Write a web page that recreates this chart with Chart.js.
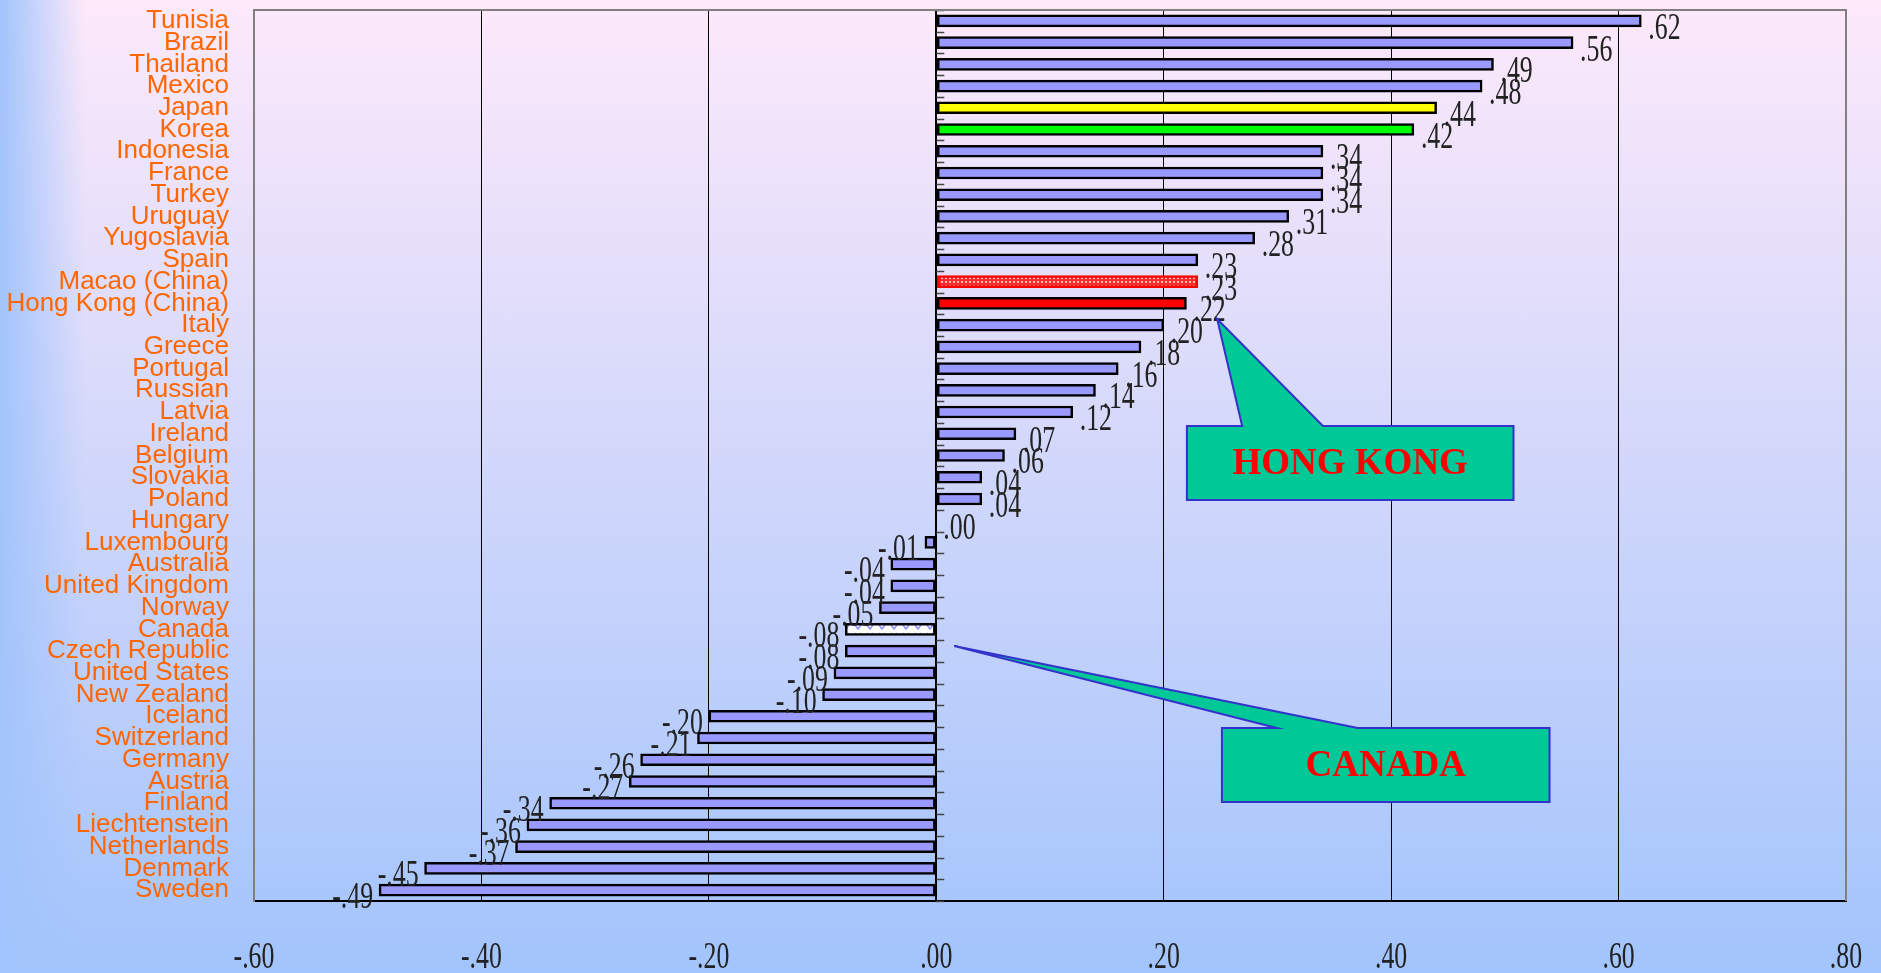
<!DOCTYPE html>
<html>
<head>
<meta charset="utf-8">
<script src="https://cdn.jsdelivr.net/npm/chart.js"></script>
<style>
  html, body { margin: 0; padding: 0; }
  #wrap {
    position: relative;
    width: 1881px;
    height: 973px;
    background:
      linear-gradient(to right, #a2c4fc 0px, rgba(162, 196, 252, 0) 85px),
      linear-gradient(to bottom, #fde9fa 0%, #a2c4fc 100%);
  }
  canvas { position: absolute; left: 0; top: 0; }
</style>
</head>
<body>
<div id="wrap"><canvas id="chart" width="1881" height="973"></canvas></div>
<script>
// Countries, top to bottom
const countries = [
  'Tunisia', 'Brazil', 'Thailand', 'Mexico', 'Japan', 'Korea', 'Indonesia', 'France',
  'Turkey', 'Uruguay', 'Yugoslavia', 'Spain', 'Macao (China)', 'Hong Kong (China)',
  'Italy', 'Greece', 'Portugal', 'Russian', 'Latvia', 'Ireland', 'Belgium', 'Slovakia',
  'Poland', 'Hungary', 'Luxembourg', 'Australia', 'United Kingdom', 'Norway', 'Canada',
  'Czech Republic', 'United States', 'New Zealand', 'Iceland', 'Switzerland', 'Germany',
  'Austria', 'Finland', 'Liechtenstein', 'Netherlands', 'Denmark', 'Sweden'
];

// Score per country (same order)
const scores = [
  0.62, 0.56, 0.49, 0.48, 0.44, 0.42, 0.34, 0.34,
  0.34, 0.31, 0.28, 0.23, 0.23, 0.22,
  0.20, 0.18, 0.16, 0.14, 0.12, 0.07, 0.06, 0.04,
  0.04, 0.00, -0.01, -0.04, -0.04, -0.05, -0.08,
  -0.08, -0.09, -0.10, -0.20, -0.21, -0.26,
  -0.27, -0.34, -0.36, -0.37, -0.45, -0.49
];

// Value axis range and step
const xMin = -0.6;
const xMax = 0.8;
const xStep = 0.2;

const calloutLabels = ['HONG KONG', 'CANADA'];

const barFill   = '#9999ff';
const labelInk  = '#222222';
const frameGray = '#808080';
const numFont   = '38px "Liberation Serif", "Times New Roman", serif';

// ".62" / "-.49" style numbers
function fmt(v) {
  const s = Math.abs(v).toFixed(2).replace(/^0/, '');
  return (v < -1e-9 ? '-' : '') + s;
}

function makePattern(w, h, paint) {
  const c = document.createElement('canvas');
  c.width = w; c.height = h;
  paint(c.getContext('2d'));
  return document.getElementById('chart').getContext('2d').createPattern(c, 'repeat');
}

// small red/white check
const macaoFill = makePattern(4, 4, g => {
  g.fillStyle = '#ff2a2a'; g.fillRect(0, 0, 4, 4);
  g.fillStyle = '#ffc4c4'; g.fillRect(1, 1, 2, 2);
});

// white with light blue "v" marks
const canadaFill = makePattern(12, 8, g => {
  g.fillStyle = '#ffffff'; g.fillRect(0, 0, 12, 8);
  g.strokeStyle = '#8f8fff'; g.lineWidth = 1.5;
  g.beginPath(); g.moveTo(3, 1); g.lineTo(6, 5); g.lineTo(9, 1); g.stroke();
});

const specialFill = {
  'Japan': '#ffff00',
  'Korea': '#00ff00',
  'Hong Kong (China)': '#ff0000',
  'Macao (China)': macaoFill,
  'Canada': canadaFill
};
const specialBorder = { 'Macao (China)': '#ff0000' };

// Short marks on the zero line between categories
const zeroTicks = {
  id: 'zeroTicks',
  beforeDatasetsDraw(chart) {
    const { ctx, scales: { x, y } } = chart;
    const x0 = x.getPixelForValue(0);
    ctx.save();
    ctx.strokeStyle = '#444';
    ctx.lineWidth = 1.5;
    for (let i = 0; i <= countries.length; i++) {
      const py = Math.round(y.getPixelForValue(i - 0.5)) + 0.5;
      ctx.beginPath();
      ctx.moveTo(x0, py);
      ctx.lineTo(x0 + 8, py);
      ctx.stroke();
    }
    ctx.restore();
  }
};

// Narrow serif text, used for value labels and x tick labels
function narrowText(ctx, text, px, py, align) {
  ctx.save();
  ctx.translate(px, py);
  ctx.scale(0.68, 1);
  ctx.textAlign = align;
  ctx.fillText(text, 0, 0);
  ctx.restore();
}

const valueLabels = {
  id: 'valueLabels',
  afterDatasetsDraw(chart) {
    const { ctx } = chart;
    const meta = chart.getDatasetMeta(0);
    ctx.save();
    ctx.fillStyle = labelInk;
    ctx.font = numFont;
    ctx.textBaseline = 'middle';
    meta.data.forEach((bar, i) => {
      const v = scores[i];
      if (v < 0) narrowText(ctx, fmt(v), bar.x - 6, bar.y + 8, 'right');
      else narrowText(ctx, fmt(v), bar.x + 7, bar.y + 8, 'left');
    });
    ctx.restore();
  }
};

const frameAndTicks = {
  id: 'frameAndTicks',
  afterDraw(chart) {
    const { ctx, chartArea: a, scales: { x } } = chart;
    ctx.save();
    // top and right edges of the plot frame
    ctx.strokeStyle = frameGray;
    ctx.lineWidth = 2;
    ctx.beginPath();
    ctx.moveTo(a.left, a.top);
    ctx.lineTo(a.right, a.top);
    ctx.lineTo(a.right, a.bottom);
    ctx.stroke();
    // x tick labels
    ctx.fillStyle = labelInk;
    ctx.font = numFont;
    ctx.textBaseline = 'middle';
    x.ticks.forEach(t => {
      narrowText(ctx, fmt(t.value), x.getPixelForValue(t.value), a.bottom + 57, 'center');
    });
    ctx.restore();
  }
};

// Speech-bubble callouts, placed in value / category units
const callouts = {
  id: 'callouts',
  afterDraw(chart) {
    const { ctx, scales: { x, y } } = chart;
    const boxes = [
      { box: [0.2204, 18.64, 0.5076, 22.05], tip: [0.247, 13.72], base: [0.269, 0.340] },
      { box: [0.2512, 32.54, 0.5393, 35.95], tip: [0.0158, 28.77], base: [0.2995, 0.3706] }
    ];
    ctx.save();
    boxes.forEach((c, k) => {
      const l = x.getPixelForValue(c.box[0]);
      const t = y.getPixelForValue(c.box[1]);
      const r = x.getPixelForValue(c.box[2]);
      const b = y.getPixelForValue(c.box[3]);
      ctx.beginPath();
      ctx.moveTo(l, t);
      ctx.lineTo(x.getPixelForValue(c.base[0]), t);
      ctx.lineTo(x.getPixelForValue(c.tip[0]), y.getPixelForValue(c.tip[1]));
      ctx.lineTo(x.getPixelForValue(c.base[1]), t);
      ctx.lineTo(r, t);
      ctx.lineTo(r, b);
      ctx.lineTo(l, b);
      ctx.closePath();
      ctx.fillStyle = '#00c896';
      ctx.fill();
      ctx.strokeStyle = '#3333cc';
      ctx.lineWidth = 2;
      ctx.stroke();
      ctx.fillStyle = '#ff0000';
      ctx.font = 'bold 37px "Liberation Serif", "Times New Roman", serif';
      ctx.textAlign = 'center';
      ctx.textBaseline = 'middle';
      ctx.fillText(calloutLabels[k], (l + r) / 2, (t + b) / 2 + 1);
    });
    ctx.restore();
  }
};

new Chart(document.getElementById('chart'), {
  type: 'bar',
  data: {
    labels: countries,
    datasets: [{
      data: scores,
      backgroundColor: countries.map(c => specialFill[c] || barFill),
      borderColor: countries.map(c => specialBorder[c] || '#000000'),
      borderWidth: 2.5,
      borderSkipped: false,
      barThickness: 12
    }]
  },
  options: {
    indexAxis: 'y',
    responsive: false,
    animation: false,
    layout: { padding: { left: 0, top: 10, right: 35, bottom: 0 } },
    plugins: {
      legend: { display: false },
      tooltip: { enabled: false }
    },
    scales: {
      x: {
        type: 'linear',
        min: xMin,
        max: xMax,
        ticks: { stepSize: xStep, display: false },
        grid: {
          drawTicks: false,
          color: ctx => (Math.abs(ctx.tick.value - xMin) < 1e-6 || Math.abs(ctx.tick.value - xMax) < 1e-6) ? frameGray : '#000000',
          lineWidth: ctx => Math.abs(ctx.tick.value) < 1e-6 ? 2 : 1
        },
        border: { display: true, color: '#000000', width: 2 },
        afterFit(scale) {
          scale.height = 72;
          scale.paddingLeft = 0;
          scale.paddingRight = 0;
        }
      },
      y: {
        type: 'category',
        grid: { display: false, drawTicks: false },
        border: { display: true, color: frameGray, width: 2 },
        ticks: {
          autoSkip: false,
          padding: 25,
          color: '#ff6600',
          font: { family: '"Liberation Sans", Arial, sans-serif', size: 26 }
        },
        afterFit(scale) {
          scale.width = 254;
          scale.paddingTop = 0;
          scale.paddingBottom = 0;
        }
      }
    }
  },
  plugins: [zeroTicks, valueLabels, frameAndTicks, callouts]
});
</script>
</body>
</html>
